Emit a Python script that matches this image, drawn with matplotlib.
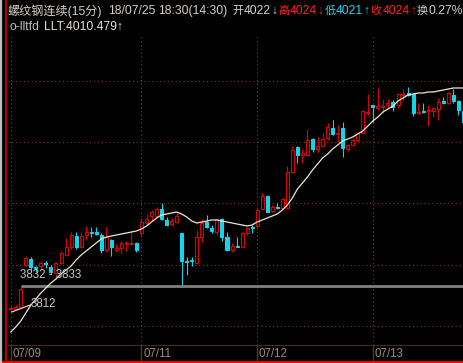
import matplotlib.pyplot as plt
from matplotlib.patches import Rectangle

# 15-minute bars, 螺纹钢连续
opens = [3810, 3810, 3812, 3854, 3860, 3852, 3853, 3856, 3852, 3846,
         3856, 3864, 3872, 3883, 3872, 3884, 3887, 3887, 3884, 3869,
         3879, 3869, 3871, 3875, 3875, 3876, 3886, 3896, 3903, 3903,
         3910, 3899, 3895, 3897, 3886, 3858, 3859, 3856, 3882, 3897,
         3891, 3887, 3900, 3882, 3869, 3873, 3872, 3886, 3892, 3893,
         3910, 3923, 3908, 3912, 3911, 3911, 3947, 3972, 3964, 3964,
         3980, 3970, 3973, 3981, 3991, 3985, 3991, 3970, 3974, 3979,
         3986, 4006, 4014, 4011, 4012, 4014, 4017, 4014, 4024, 4026,
         4025, 4006, 4008, 4008, 4008, 4010, 4018, 4016, 4024, 4018,
         4008]
closes = [3811, 3812, 3830, 3861, 3852, 3851, 3856, 3855, 3847, 3856,
          3866, 3872, 3884, 3872, 3883, 3887, 3886, 3885, 3869, 3882,
          3872, 3871, 3876, 3876, 3876, 3869, 3897, 3900, 3907, 3910,
          3900, 3894, 3898, 3903, 3858, 3857, 3858, 3882, 3896, 3892,
          3888, 3900, 3882, 3869, 3873, 3872, 3886, 3891, 3891, 3909,
          3923, 3907, 3912, 3911, 3920, 3947, 3969, 3964, 3966, 3979,
          3970, 3973, 3980, 3992, 3985, 3986, 3971, 3974, 3979, 3986,
          4008, 4007, 4012, 4013, 4013, 4016, 4012, 4025, 4025, 4024,
          4006, 4007, 4007, 4009, 4011, 4017, 4016, 4026, 4018, 4009,
          3997]
highs = [3813, 3814, 3833, 3863, 3862, 3853, 3858, 3858, 3854, 3857,
         3868, 3881, 3887, 3887, 3887, 3893, 3892, 3892, 3886, 3892,
         3880, 3875, 3878, 3878, 3887, 3877, 3901, 3905, 3909, 3912,
         3916, 3902, 3901, 3906, 3886, 3862, 3862, 3889, 3900, 3904,
         3894, 3900, 3901, 3887, 3876, 3882, 3887, 3892, 3894, 3912,
         3926, 3924, 3914, 3916, 3921, 3953, 3973, 3973, 3970, 3990,
         3981, 3982, 3986, 3996, 3999, 3994, 3997, 3975, 3981, 3987,
         4009, 4025, 4014, 4031, 4020, 4020, 4019, 4026, 4030, 4032,
         4026, 4016, 4016, 4014, 4012, 4021, 4022, 4027, 4030, 4019,
         4009]
lows = [3807, 3809, 3811, 3853, 3849, 3847, 3850, 3851, 3845, 3845,
        3855, 3863, 3870, 3870, 3871, 3879, 3882, 3884, 3866, 3867,
        3863, 3867, 3866, 3868, 3874, 3867, 3882, 3894, 3898, 3902,
        3899, 3894, 3893, 3896, 3832, 3844, 3853, 3855, 3877, 3891,
        3886, 3884, 3878, 3869, 3867, 3872, 3871, 3884, 3886, 3892,
        3909, 3907, 3907, 3910, 3910, 3910, 3946, 3956, 3956, 3963,
        3967, 3967, 3972, 3979, 3984, 3977, 3962, 3968, 3973, 3977,
        3985, 4004, 3997, 4009, 4006, 4012, 4008, 4011, 4019, 4023,
        4003, 4005, 4006, 3993, 4002, 3999, 4015, 4015, 4016, 4004,
        3995]
llt = [3787, 3792, 3798, 3806, 3814, 3820, 3826, 3831, 3836, 3840,
       3845, 3849, 3853, 3859, 3864, 3868, 3872, 3876, 3880, 3882,
       3883, 3884, 3885, 3886, 3887, 3888, 3890, 3893, 3897, 3901,
       3904, 3905, 3906, 3907, 3905, 3902, 3898, 3896, 3897, 3898,
       3899, 3899, 3898, 3897, 3896, 3895, 3894, 3893, 3894, 3897,
       3899, 3901, 3903, 3905, 3909, 3914, 3921, 3930, 3936, 3942,
       3949, 3955, 3961, 3965, 3970, 3974, 3978, 3980, 3982, 3985,
       3988, 3993, 3998, 4002, 4007, 4010, 4013, 4018, 4021, 4024,
       4025, 4026, 4026, 4027, 4027, 4028, 4029, 4030, 4031, 4031,
       4031]

grid_levels = [4038, 3977, 3916, 3854, 3793]
day_labels = ['07/09', '07/11', '07/12', '07/13']
day_starts = [1, 27, 50, 73]
gap_low, gap_high = 3832, 3833
low_mark = 3812

RED = '#e00000'
CYAN = '#14d4ea'
GRID = '#7a3e22'
AXC = '#5c3426'
FONT = ['Liberation Sans', 'Noto Sans CJK SC', 'DejaVu Sans']
plt.rcParams['font.family'] = FONT

W, H = 464, 363
fig = plt.figure(figsize=(W / 100, H / 100), dpi=100, facecolor='black')

# price panel
ax = fig.add_axes([8 / W, (H - 345) / H, 456 / W, (345 - 36) / H])
ax.set_axis_off()
ax.set_xlim(0.46, 91.12)
ax.set_ylim(3774, 4083)

for g in grid_levels:
    ax.axhline(g, color=GRID, lw=0.8, ls=(0, (1, 2.5)), zorder=1)
for d in day_starts:
    ax.axvline(d, color=GRID, lw=0.8, ls=(0, (1, 2.5)), zorder=1)

for i in range(len(opens)):
    x = i + 1
    o, c, h, l = opens[i], closes[i], highs[i], lows[i]
    col = RED if c >= o else CYAN
    ax.vlines(x, l, h, color=col, lw=0.8, zorder=2)
    face = 'black' if c >= o else CYAN
    ax.add_patch(Rectangle((x - 0.3, min(o, c)), 0.6, max(abs(c - o), 0.5),
                           facecolor=face, edgecolor=col, lw=0.8, zorder=3))

ax.plot(range(1, len(llt) + 1), llt, color='#efe6d2', lw=0.9, zorder=4)

# gap marker
ax.hlines((gap_low + gap_high) / 2 + 0.5, 3, 91.12, color='#808080', lw=2.0, zorder=2)
ax.text(2.85, gap_high + 11, f'{gap_low} - {gap_high}', color='#c8c8c8',
        fontsize=8.3, va='center', ha='left', zorder=5)
ax.plot([1.2, 4.9], [lows[0], low_mark + 2], color='#efe6d2', lw=0.8, zorder=4)
ax.text(5.0, low_mark + 3, f'{low_mark}', color='#c8c8c8', fontsize=8.3,
        va='center', ha='left', zorder=5)

# date strip
axd = fig.add_axes([8 / W, (H - 362) / H, 456 / W, 17 / H], sharex=ax)
axd.set_axis_off()
axd.set_ylim(0, 1)
axd.axhline(1, color=AXC, lw=1.2)
for d, lab in zip(day_starts, day_labels):
    axd.vlines(d, 0, 1, color=AXC, lw=1.0)
    axd.text(d + 0.35, 0.45, lab, color='#9c8a78', fontsize=8.3, va='center', ha='left')

# overlay in pixel coordinates: borders and header
ov = fig.add_axes([0, 0, 1, 1])
ov.set_axis_off()
ov.set_xlim(0, W)
ov.set_ylim(H, 0)
ov.patch.set_alpha(0)
ov.plot([0, W], [362.3, 362.3], color='#ff0000', lw=1.4)
ov.plot([1.2, 1.2], [0, H], color='#c0c0c0', lw=1.6)
ov.plot([6.3, 6.3], [0, H], color='#e00000', lw=1.2)

fs = 8.7
ov.text(8, 11, '螺纹钢连续(15分)', color='#d8d0c4', fontsize=fs, va='center')
ov.text(108, 11, '18/07/25', color='#d8d0c4', fontsize=fs, va='center')
ov.text(158, 11, '18:30(14:30)', color='#d8d0c4', fontsize=fs, va='center')

# quote strip: pieces placed one after another
header = [('开', '#d0d0d0'), ('4022', '#d0d0d0'), ('↓', '#d0d0d0'),
          ('高', '#ff2020'), ('4024', '#ff2020'), ('↓', '#ff2020'),
          ('低', '#20d8f0'), ('4021', '#20d8f0'), ('↑', '#20d8f0'),
          ('收', '#ff2020'), ('4024', '#ff2020'), ('↑', '#ff2020'),
          ('换', '#d0d0d0'), ('0.27%', '#d0d0d0')]
renderer = fig.canvas.get_renderer()
x = 232
for s, col in header:
    size = 8.0 if s in '开高低收换' else fs
    t = ov.text(x, 11, s, color=col, fontsize=size, va='center')
    x = t.get_window_extent(renderer).x1 + 0.6

ov.text(10, 27, 'o-lltfd', color='#c0c0c0', fontsize=fs, va='center')
ov.text(44, 27, 'LLT:4010.479↑', color='#e8e0d0', fontsize=fs, va='center')

fig.savefig('out.png', dpi=100, facecolor='black')
